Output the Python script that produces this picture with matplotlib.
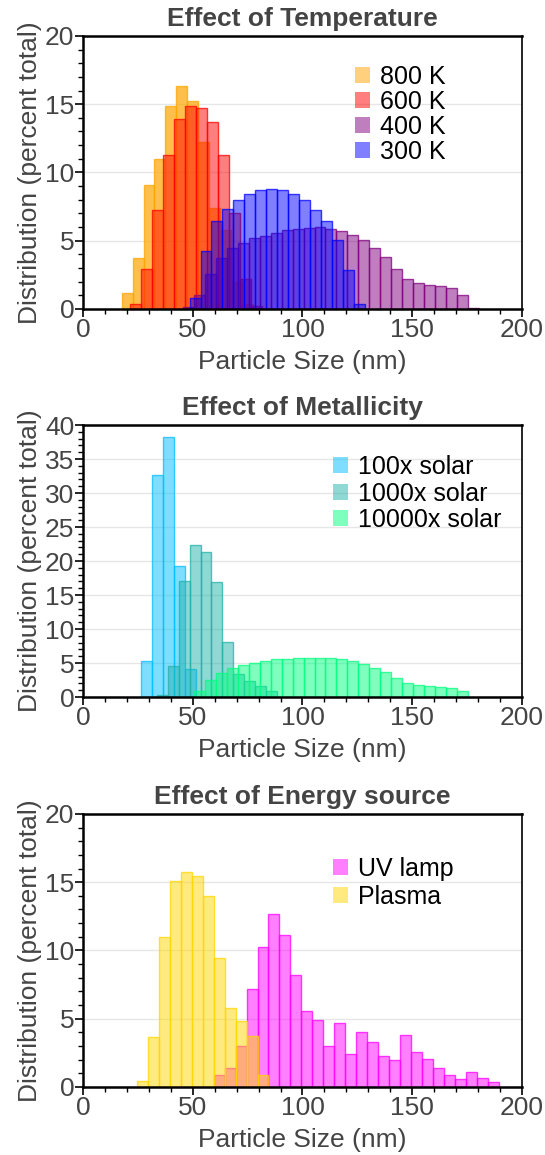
import numpy as np
import matplotlib
matplotlib.use("Agg")
import matplotlib.pyplot as plt
from matplotlib.colors import to_rgba
from matplotlib.patches import Patch
from matplotlib.ticker import MultipleLocator

plt.rcParams['font.family'] = ['Liberation Sans', 'DejaVu Sans']

BIN = 5  # bin width in nm

# --- Effect of Temperature (bin centers of first bar, then percent per bin)
t800_start = 20
t800 = [1.19, 3.7, 9.05, 11.0, 14.9, 16.3, 15.2, 12.2, 7.4, 5.8, 2.0, 0.4]
t600_start = 24
t600 = [0.34, 2.9, 7.23, 11.3, 13.9, 14.9, 14.7, 13.7, 11.3, 7.0, 2.2, 0.2]
t400_start = 48
t400 = [0.17, 1.02, 2.55, 3.75, 4.43, 4.8, 5.18, 5.38, 5.6, 5.77, 5.84, 5.94,
        5.99, 5.89, 5.74, 5.45, 5.04, 4.5, 3.82, 2.92, 2.19, 1.9, 1.75, 1.68,
        1.51, 1.0, 0.1]
t300_start = 51
t300 = [0.8, 4.23, 6.42, 7.33, 8.0, 8.44, 8.69, 8.81, 8.69, 8.42, 7.96, 7.28,
        6.42, 5.08, 2.85, 0.35]

# --- Effect of Metallicity
m100_start = 29
m100 = [5.27, 32.65, 38.26, 19.3, 4.18]
m1000_start = 36
m1000 = [0.25, 4.53, 17.06, 22.37, 21.3, 16.9, 8.07, 3.39, 2.36, 1.68, 0.94]
m10000_start = 53
m10000 = [0.89, 2.46, 3.6, 4.33, 4.68, 5.07, 5.37, 5.56, 5.66, 5.81, 5.81, 5.81,
          5.76, 5.66, 5.37, 4.93, 4.33, 3.74, 2.76, 2.02, 1.73, 1.63, 1.53,
          1.38, 0.84]

# --- Effect of Energy source
uv_start = 62
uv = [0.86, 1.42, 2.98, 7.14, 10.27, 12.66, 11.12, 8.19, 5.57, 4.89, 2.98, 4.69,
      2.45, 3.99, 3.3, 2.25, 1.96, 3.84, 2.57, 2.08, 1.42, 0.86, 0.56, 1.06,
      0.69, 0.34]
plasma_start = 27
plasma = [0.44, 3.67, 10.97, 15.1, 15.76, 15.45, 13.98, 9.44, 5.75, 4.82, 3.77,
          0.86]

panels = [
    dict(title='Effect of Temperature', ymax=20, pos=[0.1527, 0.7325, 0.8046, 0.2364],
         leg=(0.62, 0.894), spacing=0.04,
         series=[('800 K', t800_start, t800, 'orange', 0.7),
                 ('600 K', t600_start, t600, 'red', 0.5),
                 ('400 K', t400_start, t400, 'purple', 0.5),
                 ('300 K', t300_start, t300, 'blue', 0.5)]),
    dict(title='Effect of Metallicity', ymax=40, pos=[0.1527, 0.3965, 0.8046, 0.2355],
         leg=(0.57, 0.889), spacing=0.1,
         series=[('100x solar', m100_start, m100, 'deepskyblue', 0.5),
                 ('1000x solar', m1000_start, m1000, 'lightseagreen', 0.5),
                 ('10000x solar', m10000_start, m10000, 'springgreen', 0.5)]),
    dict(title='Effect of Energy source', ymax=20, pos=[0.1527, 0.0589, 0.8046, 0.2364],
         leg=(0.57, 0.843), spacing=0.17,
         series=[('UV lamp', uv_start, uv, 'magenta', 0.5),
                 ('Plasma', plasma_start, plasma, 'gold', 0.5)]),
]

fig = plt.figure(figsize=(5.45, 11.55), dpi=100)

for p in panels:
    ax = fig.add_axes(p['pos'])
    handles = []
    for label, start, vals, color, alpha in p['series']:
        centers = start + BIN * np.arange(len(vals))
        ax.bar(centers, vals, width=BIN, facecolor=to_rgba(color, alpha),
               edgecolor=to_rgba(color, 0.75), linewidth=1.0, zorder=2)
        handles.append(Patch(facecolor=to_rgba(color, 0.5), edgecolor='none', label=label))

    ax.set_xlim(0, 200)
    ax.set_ylim(0, p['ymax'])
    ax.xaxis.set_major_locator(MultipleLocator(50))
    ax.xaxis.set_minor_locator(MultipleLocator(10))
    ax.yaxis.set_major_locator(MultipleLocator(5))
    ax.yaxis.set_minor_locator(MultipleLocator(1))
    ax.tick_params(which='major', length=5.5, width=1.2, pad=1, labelsize=19,
                   labelcolor='#444444')
    ax.tick_params(which='minor', length=3.5, width=1.0)
    ax.yaxis.grid(True, color='#e6e6e6', linewidth=1.0, zorder=0)
    ax.set_axisbelow(True)
    for side in ['left', 'bottom', 'top']:
        ax.spines[side].set_linewidth(1.8)
    ax.spines['right'].set_linewidth(1.2)

    ax.set_title(p['title'], fontsize=19, fontweight='bold', color='#444444', pad=7)
    ax.set_xlabel('Particle Size (nm)', fontsize=19, color='#444444', labelpad=6)
    ax.set_ylabel('Distribution (percent total)', fontsize=19, color='#444444', labelpad=2)

    ax.legend(handles=handles, loc='upper left', bbox_to_anchor=p['leg'],
              frameon=False, fontsize=18, handlelength=0.6, handleheight=0.6,
              handletextpad=0.4, labelspacing=p['spacing'], borderpad=0,
              borderaxespad=0)

fig.savefig('out.png', dpi=100)
